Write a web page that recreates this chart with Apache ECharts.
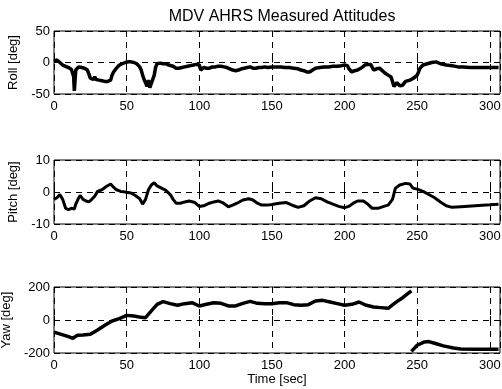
<!DOCTYPE html>
<html><head><meta charset="utf-8">
<script src="https://cdn.jsdelivr.net/npm/echarts@6/dist/echarts.min.js"></script>
<style>html,body{margin:0;padding:0;background:#fff}#c{width:502px;height:389px}</style>
</head><body><div id="c"></div>
<script>
const titleText = "MDV AHRS Measured Attitudes";
const xTicks = [0, 50, 100, 150, 200, 250, 300];
const rollTicks = [-50, 0, 50];
const pitchTicks = [-10, 0, 10];
const yawTicks = [-200, 0, 200];

const rollT = [0,1,2,3,4,5,6,7,8,9,10,11,12,13,13.5,14,14.5,15,16,17,18,19,20,21,22,23,24,25,26,27,28,29,30,31,32,33,34,35,36,37,38,39,40,41,42,43,44,45,46,47,48,49,50,51,52,53,54,55,56,57,58,59,60,61,62,63,64,65,66,67,68,69,70,71,72,73,74,75,76,77,78,79,80,82,84,85,86,88,90,92,94,96,98,100,101,102,103,105,107,109,111,113,115,117,119,121,123,125,127,129,131,133,135,137,139,141,143,145,147,150,153,156,159,162,165,168,170,172,174,176,178,180,183,186,189,192,195,198,200,202,203,205,207,209,212,214,216,218,219,220,222,224,226,228,230,232,233,234,235,236,238,240,242,245,248,250,252,254,257,260,263,266,270,274,278,282,286,290,294,298,302,306];
const rollV = [2,4,4,2,0,-3,-4,-5,-6,-7,-8,-9,-11,-13,-22,-45,-28,-12,-9,-7,-9,-8,-10,-9,-11,-12,-18,-25,-28,-27,-23,-27,-30,-28,-29,-29,-30,-30,-31,-30,-31,-28,-20,-15,-12,-9,-6,-4,-3,-2,-1,0,1,1,2,1,1,0,-1,-2,-4,-7,-12,-20,-27,-32,-38,-28,-40,-33,-36,-20,-7,-2,-1,-1,-2,-2,-3,-2,-3,-4,-4,-6,-9,-10,-9,-8,-7,-6,-5,-4,-3,-4,-12,-10,-8,-9,-9,-7,-7,-6,-6,-7,-8,-10,-12,-13,-12,-10,-9,-8,-7,-9,-9,-8,-8,-7,-8,-7,-7,-7,-8,-8,-9,-10,-12,-13,-15,-15,-12,-9,-8,-7,-7,-6,-6,-5,-4,-5,-10,-15,-13,-12,-8,-4,-3,-3,-5,-12,-10,-9,-13,-17,-20,-23,-30,-38,-40,-32,-37,-36,-30,-28,-24,-20,-9,-4,-2,0,1,-2,-4,-5,-7,-7,-8,-8,-8,-8,-8,-8,-8];

const pitchT = [0,2,4,6,8,10,12,14,15,17,18,20,22,24,26,28,30,33,36,39,41,43,46,50,53,56,59,61,63,65,67,69,71,74,77,80,82,84,87,90,93,97,100,103,107,110,113,116,120,123,126,130,134,137,140,143,147,150,155,160,165,168,172,176,180,184,188,192,196,200,203,206,209,213,216,219,223,227,230,233,235,238,242,245,247,250,254,258,262,266,270,274,280,290,300,306];
const pitchV = [-2.3,-1.8,-0.8,-2.3,-5.1,-5.5,-5.1,-5.3,-3.8,-1.8,-1.1,-2.3,-2.8,-3.1,-2.3,-1.3,0.2,0.7,1.7,2.5,1.5,0.7,0.2,-0.1,-0.3,-1.1,-2.1,-3.8,-2.3,0.7,2.2,2.9,1.9,1.2,0.5,-0.8,-2.3,-3.5,-3.5,-3.1,-2.8,-3.3,-4.5,-4.3,-3.5,-3.1,-2.8,-3.3,-4.6,-4.1,-3.5,-2.5,-2.1,-2.5,-3.5,-4.1,-4.1,-3.9,-3.5,-3.3,-4.3,-4.8,-4.3,-2.8,-1.8,-2.1,-3.1,-3.8,-4.5,-4.9,-4.5,-3.5,-2.8,-2.8,-3.8,-5.1,-5.1,-4.5,-4.1,-2.3,1.2,2.2,2.7,2.5,1.2,0.9,0.2,-0.8,-1.8,-3.1,-4.3,-4.8,-4.6,-4.3,-4.0,-3.8];

const yawT1 = [0,5,10,13,16,20,25,30,35,40,45,50,55,60,63,67,71,75,80,85,90,95,100,105,110,115,120,125,130,135,140,145,150,155,160,165,170,175,180,185,190,195,200,205,210,215,220,225,230,235,240,246];
const yawV1 = [-73,-87,-101,-111,-93,-91,-87,-61,-32,-6,8,28,24,16,14,55,95,111,99,89,99,105,85,95,105,101,85,85,101,113,101,99,99,105,105,93,89,93,115,119,109,99,89,95,109,89,79,75,71,105,135,176];
const yawT2 = [246,250,255,258,262,268,275,280,290,300,306];
const yawV2 = [-190,-153,-133,-131,-141,-157,-170,-176,-178,-178,-178];

const pairs = (t, v) => t.map((x, i) => [x, v[i]]);
const FONT = "'Liberation Sans', Arial, sans-serif";
const X_MAX = 307;
const DASH = [6, 5];

const grids = [
  {left: 54, top: 31, width: 446, height: 63},
  {left: 54, top: 160, width: 446, height: 64},
  {left: 54, top: 287, width: 446, height: 66}
];

function xAxis(i, name) {
  return {
    type: 'value', gridIndex: i, min: 0, max: X_MAX, interval: 50,
    axisLine: {show: false},
    axisTick: {show: true, inside: true, length: 4, lineStyle: {color: '#000'}},
    axisLabel: {color: '#000', fontSize: 13, fontFamily: FONT, margin: 6,
      formatter: v => xTicks.includes(v) ? String(v) : '', showMaxLabel: false},
    splitLine: {show: true, lineStyle: {color: '#000', type: DASH, width: 1}},
    name: name || '', nameLocation: 'middle', nameGap: 20,
    nameTextStyle: {color: '#000', fontSize: 13, fontFamily: FONT}
  };
}
function yAxis(i, ticks, name) {
  return {
    type: 'value', gridIndex: i, min: ticks[0], max: ticks[2], interval: ticks[1] - ticks[0],
    axisLine: {show: false},
    axisTick: {show: true, inside: true, length: 4, lineStyle: {color: '#000'}},
    axisLabel: {color: '#000', fontSize: 13, fontFamily: FONT, margin: 4},
    splitLine: {show: true, lineStyle: {color: '#000', type: DASH, width: 1}},
    name: name, nameLocation: 'middle', nameGap: 31, nameRotate: 90,
    nameTextStyle: {color: '#000', fontSize: 13, fontFamily: FONT}
  };
}
function line(i, data, w) {
  return {type: 'line', xAxisIndex: i, yAxisIndex: i, data: data, symbol: 'none',
    lineStyle: {color: '#000', width: w}, silent: true, animation: false, z: 3};
}

const chart = echarts.init(document.getElementById('c'), null, {renderer: 'canvas'});
chart.setOption({
  backgroundColor: '#fff',
  animation: false,
  title: {text: titleText, left: 277, top: 4, textAlign: 'center',
    textStyle: {color: '#000', fontSize: 16, fontWeight: 'normal', fontFamily: FONT}},
  grid: grids.map(g => Object.assign({show: true, borderColor: '#000', borderWidth: 1,
    backgroundColor: '#fff', containLabel: false, outerBoundsMode: 'none'}, g)),
  xAxis: [xAxis(0), xAxis(1), xAxis(2, 'Time [sec]')],
  yAxis: [yAxis(0, rollTicks, 'Roll [deg]'), yAxis(1, pitchTicks, 'Pitch [deg]'), yAxis(2, yawTicks, 'Yaw [deg]')],
  series: [
    line(0, pairs(rollT, rollV), 3.5),
    line(1, pairs(pitchT, pitchV), 3),
    line(2, pairs(yawT1, yawV1), 3.5),
    line(2, pairs(yawT2, yawV2), 3.5)
  ]
});
</script></body></html>
